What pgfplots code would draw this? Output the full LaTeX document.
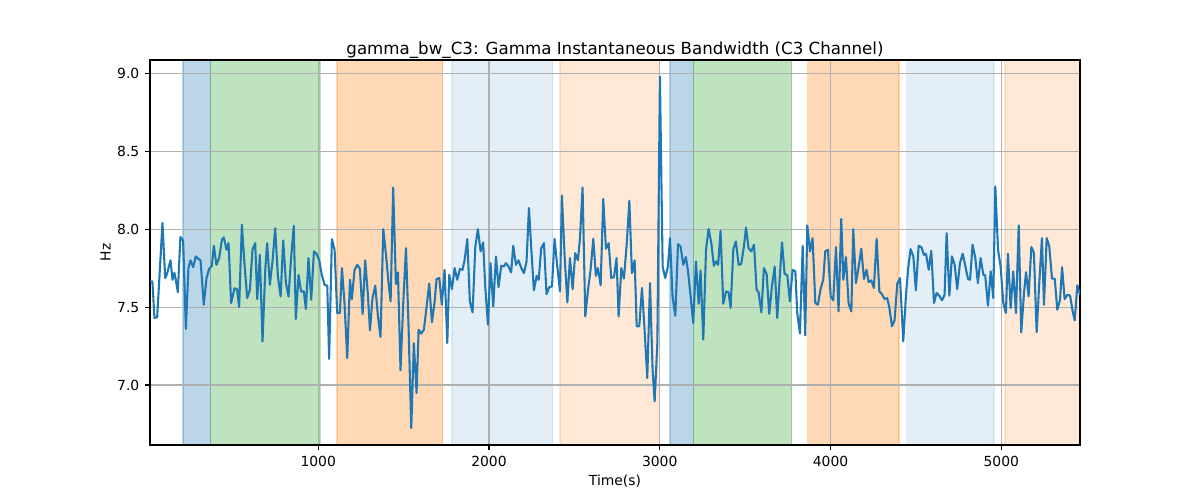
\documentclass[border=0pt]{standalone}
\usepackage{pgfplots}
\pgfplotsset{compat=1.18}
\usepackage{fontspec}
\setmainfont{DejaVu Sans}
\definecolor{tabblue}{HTML}{1F77B4}
\definecolor{tabgreen}{HTML}{2CA02C}
\definecolor{taborange}{HTML}{FF7F0E}
\definecolor{gridgray}{HTML}{B0B0B0}
\pgfplotstableread{
t v
15 7.665
29 7.665
41 7.43
57 7.434
88 8.04
104 7.686
115 7.714
135 7.80
147 7.675
158 7.72
166 7.675
178 7.596
193 7.949
209 7.927
225 7.359
240 7.75
252 7.80
268 7.756
283 7.825
297 7.81
311 7.80
330 7.515
346 7.686
361 7.744
377 7.765
389 7.893
404 7.771
420 7.814
436 7.932
447 7.947
463 7.868
475 7.91
490 7.526
510 7.62
525 7.615
537 7.50
553 8.028
568 7.782
584 7.558
600 7.611
615 7.868
631 7.91
643 7.551
658 7.835
674 7.28
690 7.739
701 7.91
717 7.643
733 7.80
748 8.006
764 7.697
780 7.568
795 7.927
811 7.654
826 7.568
842 7.825
857 8.021
869 7.423
885 7.707
900 7.60
916 7.60
928 7.487
943 7.814
959 7.547
975 7.857
990 7.842
1006 7.80
1021 7.707
1037 7.643
1053 7.637
1064 7.167
1080 7.936
1096 7.868
1111 7.462
1127 7.462
1139 7.75
1154 7.526
1170 7.173
1186 7.675
1197 7.551
1213 7.739
1229 7.771
1244 7.746
1260 7.455
1275 7.80
1291 7.579
1303 7.35
1318 7.558
1334 7.637
1350 7.44
1365 7.308
1381 8.0
1396 7.846
1412 7.654
1424 7.536
1439 8.267
1455 7.648
1467 7.722
1482 7.094
1498 7.526
1514 7.878
1529 7.376
1545 6.724
1560 7.269
1576 6.949
1588 7.355
1603 7.33
1619 7.355
1635 7.504
1650 7.65
1666 7.402
1681 7.526
1693 7.68
1709 7.686
1724 7.515
1740 7.739
1756 7.269
1767 7.707
1783 7.615
1799 7.75
1814 7.675
1830 7.744
1845 7.739
1857 7.80
1873 7.936
1888 7.536
1904 7.466
1920 7.889
1935 8.0
1951 7.857
1966 7.915
1978 7.632
1994 7.387
2009 7.782
2025 7.504
2041 7.825
2056 7.628
2072 7.765
2087 7.76
2099 7.782
2115 7.76
2130 7.722
2142 7.893
2158 7.771
2173 7.80
2189 7.75
2205 7.718
2220 7.793
2234 8.135
2248 7.868
2263 7.607
2279 7.70
2291 7.675
2306 7.878
2322 7.91
2337 7.583
2353 7.628
2369 7.632
2384 7.938
2400 7.76
2416 7.60
2427 8.216
2443 7.825
2459 7.53
2474 7.814
2490 7.615
2505 7.846
2521 7.80
2533 7.942
2548 8.267
2564 7.44
2580 7.611
2595 7.739
2611 7.938
2626 7.70
2638 7.75
2654 7.639
2669 8.194
2685 7.874
2701 7.91
2716 7.686
2732 7.692
2747 7.814
2759 7.44
2775 7.75
2790 7.682
2806 7.893
2822 8.182
2837 7.718
2853 7.80
2865 7.376
2880 7.376
2896 7.622
2911 7.359
2927 7.045
2943 7.654
2958 7.103
2970 6.895
2986 7.269
3001 8.979
3017 7.76
3032 7.686
3048 7.76
3060 7.942
3075 7.568
3091 7.444
3107 7.904
3122 7.889
3138 7.771
3153 7.821
3165 7.735
3181 7.568
3196 7.397
3212 7.793
3228 7.521
3239 7.735
3255 7.291
3271 7.868
3286 8.002
3302 7.91
3317 7.765
3330 7.793
3342 7.771
3356 7.989
3372 7.521
3388 7.60
3403 7.596
3415 7.494
3431 7.872
3446 7.921
3462 7.771
3477 7.776
3493 7.889
3505 8.011
3520 7.878
3536 7.857
3552 7.90
3567 7.611
3579 7.594
3595 7.466
3610 7.75
3626 7.712
3641 7.457
3657 7.632
3673 7.76
3688 7.43
3704 7.714
3716 7.915
3731 7.714
3747 7.703
3762 7.536
3778 7.739
3794 7.729
3805 7.462
3821 7.33
3837 7.893
3852 7.318
3864 8.024
3880 7.857
3895 7.942
3911 7.526
3926 7.515
3942 7.615
3958 7.68
3969 7.857
3985 7.868
4001 7.568
4016 7.543
4032 7.885
4047 7.472
4063 8.066
4075 7.675
4090 7.821
4106 7.521
4122 7.472
4133 8.0
4149 7.654
4165 7.76
4180 7.874
4196 7.68
4211 7.739
4223 7.66
4239 7.671
4254 7.622
4270 7.938
4286 7.60
4301 7.583
4317 7.551
4332 7.558
4344 7.50
4360 7.376
4375 7.415
4391 7.65
4407 7.686
4426 7.28
4442 7.58
4455 7.75
4469 7.872
4485 7.825
4500 7.607
4516 7.893
4532 7.885
4547 7.835
4559 7.842
4575 7.739
4590 7.861
4606 7.526
4621 7.59
4637 7.573
4653 7.543
4668 7.579
4680 7.974
4696 7.573
4711 7.825
4727 7.771
4742 7.615
4758 7.782
4774 7.842
4789 7.765
4805 7.68
4817 7.675
4832 7.90
4848 7.814
4863 7.654
4879 7.814
4895 7.707
4906 7.703
4922 7.509
4938 7.729
4953 7.558
4965 8.274
4981 7.868
4996 7.76
5012 7.526
5027 7.462
5039 7.842
5055 7.494
5070 7.729
5086 7.462
5102 8.024
5117 7.338
5133 7.59
5145 7.724
5160 7.568
5176 7.885
5191 7.85
5207 7.338
5223 7.665
5238 7.942
5250 7.515
5266 7.942
5281 7.889
5297 7.682
5313 7.682
5328 7.483
5344 7.547
5356 7.756
5371 7.551
5387 7.579
5403 7.573
5418 7.472
5430 7.415
5445 7.639
5461 7.579
}\datatable
\begin{document}
\begin{tikzpicture}
\begin{axis}[
  set layers,
  scale only axis,
  width=669.6pt, height=277.2pt,
  at={(0,0)}, anchor=south west,
  xmin=15, xmax=5461,
  ymin=6.615, ymax=9.085,
  xtick={1000,2000,3000,4000,5000},
  ytick={7,7.5,8,8.5,9},
  /pgf/number format/assume math mode=true,
  /pgf/number format/1000 sep={},
  yticklabel style={/pgf/number format/fixed,/pgf/number format/precision=1,/pgf/number format/fixed zerofill},
  tick align=outside,
  major tick length=3.5pt,
  tick style={black, line width=0.8pt},
  xtick pos=bottom, ytick pos=left,
  axis line style={black, line width=0.8pt},
  grid=major,
  major grid style={gridgray, line width=0.8pt},
  ticklabel style={font=\fontsize{10}{12}\selectfont},
  xticklabel style={inner sep=0pt, anchor=north, yshift=-4.5pt},
  yticklabel style={inner sep=0pt, anchor=east, xshift=-4pt},
  every axis title shift=0pt,
  title={gamma\_bw\_C3: Gamma Instantaneous Bandwidth (C3 Channel)},
  title style={font=\fontsize{12}{14}\selectfont, at={(axis description cs:0.5,1)}, anchor=base, inner sep=0pt, yshift=4pt},
  xlabel={Time(s)},
  xlabel style={font=\fontsize{10}{12}\selectfont, at={(axis description cs:0.5,0)}, anchor=base, inner sep=0pt, yshift=-28.8pt},
  ylabel={Hz},
  ylabel style={font=\fontsize{10}{12}\selectfont, at={(axis description cs:0,0.5)}, anchor=base, inner sep=0pt, yshift=28.3pt},
]
\addplot[on layer=axis background, fill=tabblue, fill opacity=0.3, draw=tabblue, draw opacity=0.3, line width=1pt] coordinates {(209,6.615) (370,6.615) (370,9.085) (209,9.085)} -- cycle;
\addplot[on layer=axis background, fill=tabgreen, fill opacity=0.3, draw=tabgreen, draw opacity=0.3, line width=1pt] coordinates {(370,6.615) (1010,6.615) (1010,9.085) (370,9.085)} -- cycle;
\addplot[on layer=axis background, fill=taborange, fill opacity=0.3, draw=taborange, draw opacity=0.3, line width=1pt] coordinates {(1109,6.615) (1729,6.615) (1729,9.085) (1109,9.085)} -- cycle;
\addplot[on layer=axis background, fill=tabblue, fill opacity=0.12, draw=tabblue, draw opacity=0.12, line width=1pt] coordinates {(1783,6.615) (2373,6.615) (2373,9.085) (1783,9.085)} -- cycle;
\addplot[on layer=axis background, fill=taborange, fill opacity=0.17, draw=taborange, draw opacity=0.17, line width=1pt] coordinates {(2415,6.615) (2997,6.615) (2997,9.085) (2415,9.085)} -- cycle;
\addplot[on layer=axis background, fill=tabblue, fill opacity=0.3, draw=tabblue, draw opacity=0.3, line width=1pt] coordinates {(3060,6.615) (3197,6.615) (3197,9.085) (3060,9.085)} -- cycle;
\addplot[on layer=axis background, fill=tabgreen, fill opacity=0.3, draw=tabgreen, draw opacity=0.3, line width=1pt] coordinates {(3197,6.615) (3773,6.615) (3773,9.085) (3197,9.085)} -- cycle;
\addplot[on layer=axis background, fill=taborange, fill opacity=0.3, draw=taborange, draw opacity=0.3, line width=1pt] coordinates {(3866,6.615) (4401,6.615) (4401,9.085) (3866,9.085)} -- cycle;
\addplot[on layer=axis background, fill=tabblue, fill opacity=0.12, draw=tabblue, draw opacity=0.12, line width=1pt] coordinates {(4446,6.615) (4957,6.615) (4957,9.085) (4446,9.085)} -- cycle;
\addplot[on layer=axis background, fill=taborange, fill opacity=0.17, draw=taborange, draw opacity=0.17, line width=1pt] coordinates {(5022,6.615) (5461,6.615) (5461,9.085) (5022,9.085)} -- cycle;
\addplot[tabblue, line width=1.5pt, line join=round, mark=none] table[x=t, y=v] {\datatable};
\end{axis}
\pgfresetboundingbox
\path (-108pt,-39.6pt) rectangle (756pt,320.4pt);
\end{tikzpicture}
\end{document}
